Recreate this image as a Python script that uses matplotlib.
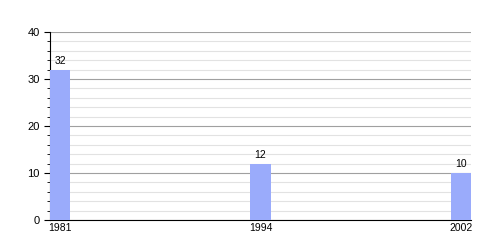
import matplotlib.pyplot as plt
from matplotlib.ticker import MultipleLocator

plt.rcParams['font.family'] = ['Liberation Sans', 'DejaVu Sans']

years = ['1981', '1994', '2002']
values = [32, 12, 10]

fig = plt.figure(figsize=(5, 2.5), dpi=100)
ax = fig.add_axes([0.1, 0.12, 0.842, 0.752])

pos = [0.05, 1.05, 2.05]
bars = ax.bar(pos, values, width=0.1, color='#9aabfb', zorder=3)
for x, v in zip(pos, values):
    ax.text(x, v + 0.8, str(v), ha='center', va='bottom', fontsize=7.5)

ax.set_xlim(0, 2.1)
ax.set_ylim(0, 40)
ax.set_xticks(pos)
ax.set_xticklabels(years, fontsize=7.5)
ax.tick_params(axis='x', length=0, pad=2)
ax.yaxis.set_major_locator(MultipleLocator(10))
ax.yaxis.set_minor_locator(MultipleLocator(2))
ax.tick_params(axis='y', which='major', labelsize=8, length=4, width=0.8)
ax.tick_params(axis='y', which='minor', length=2.5, width=0.6)
ax.grid(axis='y', which='major', color='#a0a0a0', linewidth=0.8, zorder=0)
ax.grid(axis='y', which='minor', color='#e2e2e2', linewidth=0.8, zorder=0)
ax.spines['top'].set_visible(False)
ax.spines['right'].set_visible(False)

plt.savefig('out.png', dpi=100)
